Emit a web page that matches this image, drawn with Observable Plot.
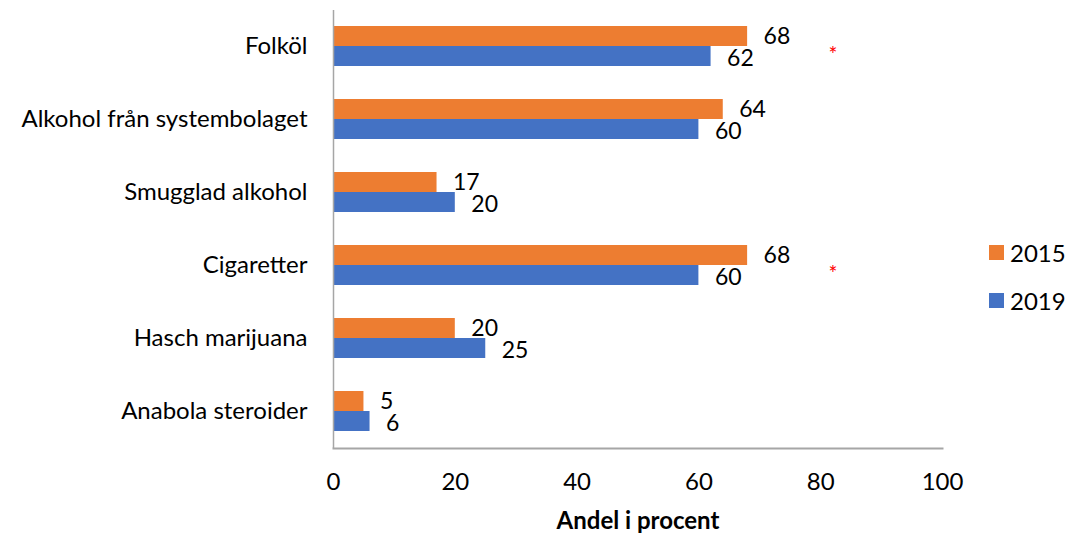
<!DOCTYPE html>
<html>
<head>
<meta charset="utf-8">
<script src="https://cdn.jsdelivr.net/npm/d3@7"></script>
<script src="https://cdn.jsdelivr.net/npm/@observablehq/plot@0.6"></script>
<style>
  body { margin: 0; background: #fff; font-family: Lato, sans-serif; }
  #wrap { position: relative; width: 1067px; height: 535px; }
  #legend { position: absolute; left: 989px; top: 239px; font-family: Lato, sans-serif; font-size: 24px; color: #000; }
  #legend .item { display: flex; align-items: center; height: 26px; margin-bottom: 22px; }
  #legend .sw { width: 15px; height: 15px; margin-right: 6px; }
  svg g[aria-label="x-axis label"] text { font-weight: bold; }
</style>
</head>
<body>
<div id="wrap"></div>
<script>
const categories = ["Folköl", "Alkohol från systembolaget", "Smugglad alkohol", "Cigaretter", "Hasch marijuana", "Anabola steroider"];
const years = ["2015", "2019"];
const values2015 = [68, 64, 17, 68, 20, 5];
const values2019 = [62, 60, 20, 60, 25, 6];
const colors = ["#ed7d31", "#4472c4"];
const xTicks = [0, 20, 40, 60, 80, 100];
const significant = ["Folköl", "Cigaretter"];
const asteriskX = 82;

const rows2015 = categories.map((c, i) => ({category: c, year: years[0], value: values2015[i]}));
const rows2019 = categories.map((c, i) => ({category: c, year: years[1], value: values2019[i]}));

const chart = Plot.plot({
  width: 1067,
  height: 535,
  marginLeft: 333,
  marginRight: 125,
  marginTop: 10,
  marginBottom: 87,
  style: {fontFamily: "Lato, sans-serif", fontSize: "24px", color: "#000", background: "#fff"},
  x: {domain: [0, 100]},
  y: {domain: categories, paddingInner: 0.45, paddingOuter: 0.2},
  color: {domain: years, range: colors},
  marks: [
    Plot.barX(rows2015, {x: "value", y: "category", fill: "year", insetBottom: 20}),
    Plot.barX(rows2019, {x: "value", y: "category", fill: "year", insetTop: 20}),
    Plot.text(rows2015, {x: "value", y: "category", text: d => String(d.value), dx: 16, dy: -10, textAnchor: "start", fontSize: 23, fill: "#000"}),
    Plot.text(rows2019, {x: "value", y: "category", text: d => String(d.value), dx: 16, dy: 12, textAnchor: "start", fontSize: 23, fill: "#000"}),
    Plot.text(significant, {x: () => asteriskX, y: d => d, text: () => "*", fill: "#ff0000", fontSize: 21, dy: 9}),
    Plot.ruleX([0], {stroke: "#a6a6a6", strokeWidth: 1.5}),
    Plot.frame({anchor: "bottom", stroke: "#a6a6a6", strokeWidth: 2}),
    Plot.axisY({tickSize: 0, tickPadding: 26, label: null, fontSize: 24}),
    Plot.axisX({ticks: xTicks, tickSize: 0, tickPadding: 24, fontSize: 24, label: "Andel i procent", labelAnchor: "center", labelArrow: "none", labelOffset: 80})
  ]
});
document.getElementById("wrap").appendChild(chart);

const legend = document.createElement("div");
legend.id = "legend";
years.forEach((y, i) => {
  const item = document.createElement("div");
  item.className = "item";
  const sw = document.createElement("span");
  sw.className = "sw";
  sw.style.background = colors[i];
  const t = document.createElement("span");
  t.textContent = y;
  item.appendChild(sw);
  item.appendChild(t);
  legend.appendChild(item);
});
document.getElementById("wrap").appendChild(legend);
</script>
</body>
</html>
